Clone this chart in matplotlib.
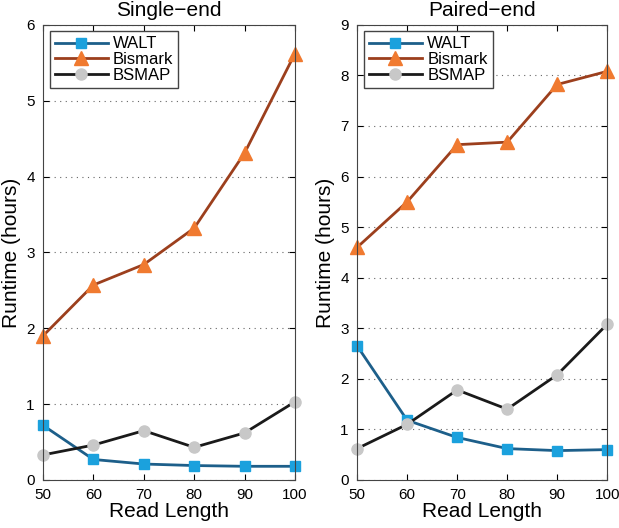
import numpy as np
import matplotlib
matplotlib.use("Agg")
import matplotlib.pyplot as plt

plt.rcParams["font.family"] = ["Liberation Sans", "DejaVu Sans"]

read_length = [50, 60, 70, 80, 90, 100]

single_walt = [0.72, 0.27, 0.21, 0.19, 0.18, 0.18]
single_bismark = [1.90, 2.57, 2.84, 3.32, 4.31, 5.62]
single_bsmap = [0.33, 0.46, 0.65, 0.43, 0.62, 1.03]

paired_walt = [2.65, 1.18, 0.84, 0.62, 0.58, 0.60]
paired_bismark = [4.60, 5.50, 6.63, 6.68, 7.82, 8.08]
paired_bsmap = [0.62, 1.10, 1.78, 1.40, 2.08, 3.08]

styles = {
    "WALT": dict(color="#1d5f8a", marker="s", mfc="#1ba1dd", mec="#1ba1dd", ms=7),
    "Bismark": dict(color="#9c3f1d", marker="^", mfc="#f07a30", mec="#f07a30", ms=10),
    "BSMAP": dict(color="#1a1a1a", marker="o", mfc="#c8c8c8", mec="#c8c8c8", ms=8),
}


def draw_panel(ax, series, ymax, title):
    for name, values in series.items():
        ax.plot(read_length, values, lw=2, label=name, clip_on=False, **styles[name])
    ax.set_xlim(50, 100)
    ax.set_ylim(0, ymax)
    ax.set_xticks(read_length)
    ax.set_yticks(np.arange(0, ymax + 1))
    ax.yaxis.grid(True, linestyle=(0, (1, 4)), color="#666666", lw=0.8)
    ax.tick_params(direction="in", top=True, right=True, labelsize=11, length=4)
    ax.tick_params(axis="x", pad=6)
    ax.tick_params(axis="y", pad=6)
    ax.set_xlabel("Read Length", fontsize=15, labelpad=0)
    ax.set_ylabel("Runtime (hours)", fontsize=15, labelpad=4)
    ax.set_title(title, fontsize=15, pad=6)
    for spine in ax.spines.values():
        spine.set_color("#444444")
    leg = ax.legend(loc="upper left", fontsize=12, fancybox=False, framealpha=1,
                    edgecolor="#444444", borderaxespad=0.4, handlelength=3.2,
                    labelspacing=0.05, borderpad=0.3, handletextpad=0.3)
    leg.get_frame().set_linewidth(1)
    leg.set_zorder(5)


fig = plt.figure(figsize=(6.19, 5.28), dpi=100)
ax1 = fig.add_axes([0.0695, 0.091, 0.407, 0.862])
ax2 = fig.add_axes([0.577, 0.091, 0.404, 0.862])

draw_panel(ax1, {"WALT": single_walt, "Bismark": single_bismark, "BSMAP": single_bsmap}, 6, "Single\u2212end")
draw_panel(ax2, {"WALT": paired_walt, "Bismark": paired_bismark, "BSMAP": paired_bsmap}, 9, "Paired\u2212end")

fig.savefig("out.png", dpi=100)
